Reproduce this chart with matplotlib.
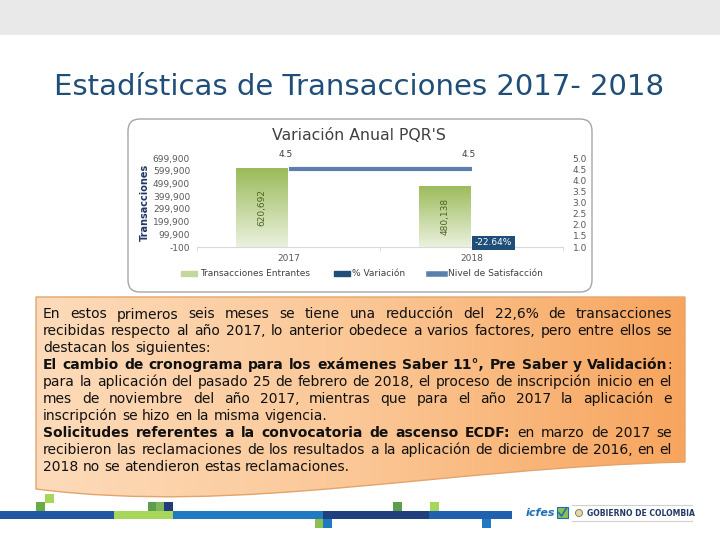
import numpy as np
import matplotlib
matplotlib.use('Agg')
import matplotlib.pyplot as plt
from matplotlib.patches import Rectangle, FancyBboxPatch, PathPatch, Patch, Circle
from matplotlib.path import Path
from matplotlib.lines import Line2D
from matplotlib.colors import LinearSegmentedColormap

# --- data ---
years = ['2017', '2018']
transacciones = [620692, 480138]
variacion = [np.nan, -22.64]      # % variacion (only 2018)
satisfaccion = [4.5, 4.5]         # nivel de satisfaccion

slide_title = 'Estadísticas de Transacciones 2017- 2018'
chart_title = "Variación Anual PQR'S"
legend_labels = ['Transacciones Entrantes', '% Variación', 'Nivel de Satisfacción']

# (segments, justified) ; segment = (text, bold)
body = [
    ([('En estos primeros seis meses se tiene una reducción del 22,6% de transacciones', False)], True),
    ([('recibidas respecto al año 2017, lo anterior obedece a varios factores, pero entre ellos se', False)], True),
    ([('destacan los siguientes:', False)], False),
    ([('El cambio de cronograma para los exámenes Saber 11°, Pre Saber y Validación', True), (':', False)], True),
    ([('para la aplicación del pasado 25 de febrero de 2018, el proceso de inscripción inicio en el', False)], True),
    ([('mes de noviembre del año 2017, mientras que para el año 2017 la aplicación e', False)], True),
    ([('inscripción se hizo en la misma vigencia.', False)], False),
    ([('Solicitudes referentes a la convocatoria de ascenso ECDF:', True), (' en marzo de 2017 se', False)], True),
    ([('recibieron las reclamaciones de los resultados a la aplicación de diciembre de 2016, en el', False)], True),
    ([('2018 no se atendieron estas reclamaciones.', False)], False),
]

W, H = 720, 540
fig = plt.figure(figsize=(7.2, 5.4), dpi=100)
fig.patch.set_facecolor('white')

# background axes in pixel coordinates
bg = fig.add_axes([0, 0, 1, 1], zorder=0)
bg.axis('off')


def px(x0, y0, x1, y1):
    return [x0 / W, 1 - y1 / H, (x1 - x0) / W, (y1 - y0) / H]


# top banner
bg.add_patch(Rectangle((0, 0), W, 35, color='#E9E9E9', lw=0))

bg.text(359, 87, slide_title, ha='center', va='center', fontsize=21, color='#1F4E79')

# chart frame
bg.add_patch(FancyBboxPatch((128, 119), 464, 173, boxstyle='round,pad=0,rounding_size=12',
                            fc='white', ec='#A6A6A6', lw=1))
bg.text(359, 136, chart_title, ha='center', va='center', fontsize=11.3, color='#404040')
bg.text(145, 202, 'Transacciones', rotation=90, ha='center', va='center', fontsize=7,
        fontweight='bold', color='#1F3864')

# text box (document shape)
verts = [(36, 297), (685, 297), (685, 462), (440, 468), (240, 515), (36, 489), (36, 297)]
codes = [Path.MOVETO, Path.LINETO, Path.LINETO, Path.CURVE4, Path.CURVE4, Path.CURVE4, Path.CLOSEPOLY]
box = PathPatch(Path(verts, codes), fc='none', ec='#E3A46A', lw=1, zorder=3)
bg.add_patch(box)
peach = LinearSegmentedColormap.from_list('peach', ['#FDDBBA', '#FBC796', '#F7A55E'])
im = bg.imshow(np.linspace(0, 1, 256).reshape(1, -1), cmap=peach, extent=(36, 685, 505, 297),
               aspect='auto', zorder=2)
im.set_clip_path(box)

# bottom stripe
for x0, x1, c in [(0, 114, '#2157A2'), (114, 173, '#A6D65A'), (173, 323, '#1F7AC1'),
                  (323, 429, '#1F3F7E'), (429, 512, '#2060AE')]:
    bg.add_patch(Rectangle((x0, 511), x1 - x0, 8, color=c, lw=0))
for x0, y0, c in [(45, 494, '#A6D65A'), (36, 502, '#6AAA48'), (148, 502, '#5E9E4A'),
                  (156, 502, '#7FB55B'), (164, 502, '#1F3D7A'), (315, 519, '#8CC152'),
                  (323, 519, '#1F7AC1'), (393, 502, '#5E9E4A'), (430, 502, '#A6D65A'),
                  (482, 519, '#1F7AC1')]:
    bg.add_patch(Rectangle((x0, y0), 8.5, 9, color=c, lw=0))

# logos
bg.text(526, 513, 'icfes', style='italic', fontweight='bold', color='#1F6FB5', fontsize=8, va='center')
bg.add_patch(Rectangle((557, 507), 11, 11, fc='#8CC152', ec='#1F6FB5', lw=0.8))
bg.plot([558.5, 561.5, 566.5], [512.5, 516, 508], color='#1F6FB5', lw=1.2)
bg.plot([572, 692], [505, 505], color='#D0D0D0', lw=0.8)
bg.plot([572, 692], [521, 521], color='#D0D0D0', lw=0.8)
bg.add_patch(Circle((579, 513), 3.5, fc='#E8D9A0', ec='#707070', lw=0.6))
bg.text(587, 513, 'GOBIERNO DE COLOMBIA', fontsize=5.5, fontweight='bold', color='#1F3864', va='center')

bg.set_xlim(0, W)
bg.set_ylim(H, 0)

# --- justified body text ---
FS = 10
renderer = fig.canvas.get_renderer()


def text_w(s, bold):
    t = bg.text(0, 0, s, fontsize=FS, fontweight='bold' if bold else 'normal')
    w = t.get_window_extent(renderer).width
    t.remove()
    return w


def words_of(segs):
    words = []
    glue = False
    for txt, bold in segs:
        parts = txt.split(' ')
        for i, p in enumerate(parts):
            if i == 0 and glue and words:
                if p:
                    words[-1].append((p, bold))
            elif p:
                words.append([(p, bold)])
        glue = not txt.endswith(' ')
    return words


space = text_w('a a', False) - text_w('aa', False)
left, right = 43, 672
for i, (segs, just) in enumerate(body):
    y = 313 + i * 16.9
    words = words_of(segs)
    widths = [[text_w(p, b) for p, b in wd] for wd in words]
    total = sum(sum(w) for w in widths)
    gap = (right - left - total) / (len(words) - 1) if just else space
    x = left
    for wd, ws in zip(words, widths):
        for (p, b), w in zip(wd, ws):
            bg.text(x, y, p, fontsize=FS, fontweight='bold' if b else 'normal',
                    color='#111111', va='center_baseline', zorder=4)
            x += w
        x += gap

# --- chart ---
ax = fig.add_axes(px(197, 158, 563, 247), zorder=2)
ax.patch.set_alpha(0)
x = np.arange(len(years))
off, bw = 0.145, 0.28

green = LinearSegmentedColormap.from_list('green', ['#EBF1DE', '#9BBB59'])
bars = ax.bar(x - off, transacciones, bw, color='#9BBB59', zorder=2)
for b in bars:
    bx, by = b.get_xy()
    g = ax.imshow(np.linspace(0, 1, 256).reshape(-1, 1), cmap=green, origin='lower',
                  extent=(bx, bx + b.get_width(), 0, b.get_height()), aspect='auto', zorder=3)
    g.set_clip_path(b)
for xi, v in zip(x, transacciones):
    ax.text(xi - off, v / 2, f'{v:,}', rotation=90, ha='center', va='center', fontsize=6.5,
            color='#4F6228', zorder=4)

ax.set_xlim(-0.5, 1.5)
ax.set_ylim(-100, 699900)
ax.set_yticks(np.arange(-100, 700000, 100000))
ax.set_yticklabels([f'{int(v):,}' for v in np.arange(-100, 700000, 100000)])
ax.set_xticks(x)
ax.set_xticklabels(years)
ax.set_xticks([-0.5, 0.5, 1.5], minor=True)
ax.tick_params(axis='y', length=0, labelsize=6.5, labelcolor='#595959', pad=5)
ax.tick_params(axis='x', which='major', length=0, labelsize=6.5, labelcolor='#595959', pad=5)
ax.tick_params(axis='x', which='minor', length=3, color='#D9D9D9')
for s in ['top', 'left', 'right']:
    ax.spines[s].set_visible(False)
ax.spines['bottom'].set_color('#D9D9D9')

ax2 = ax.twinx()
ax2.bar(x + off, variacion, bw, color='#1F4E79')
ax2.plot(x, satisfaccion, color='#5B80AE', lw=3, solid_capstyle='butt')
for xi, v in zip(x, satisfaccion):
    ax2.annotate(f'{v:.1f}', (xi, v), xytext=(-2, 7), textcoords='offset points', ha='center',
                 va='bottom', fontsize=6.5, color='#404040')
ax2.annotate(f'{variacion[1]:.2f}%', (1 + off, 1.0), xytext=(-3.5, 3), textcoords='offset points',
             ha='center', va='center', fontsize=6.5, color='white',
             bbox=dict(boxstyle='square,pad=0.3', fc='#1F4E79', ec='none'))
ax2.set_ylim(1.0, 5.0)
ax2.set_yticks(np.arange(1.0, 5.01, 0.5))
ax2.set_yticklabels([f'{v:.1f}' for v in np.arange(1.0, 5.01, 0.5)])
ax2.tick_params(axis='y', length=0, labelsize=6.5, labelcolor='#595959', pad=7)
for s in ax2.spines.values():
    s.set_visible(False)

handles = [Patch(color='#C3D69B'), Patch(color='#1F4E79'), Line2D([], [], color='#5B80AE', lw=4)]
fig.legend(handles, legend_labels, loc='center', bbox_to_anchor=(362 / W, 1 - 274 / H), ncol=3,
           frameon=False, fontsize=6.5, labelcolor='#404040', handlelength=1.8, handleheight=0.5,
           handletextpad=0.3, columnspacing=2.6)

fig.savefig('out.png', dpi=100)
